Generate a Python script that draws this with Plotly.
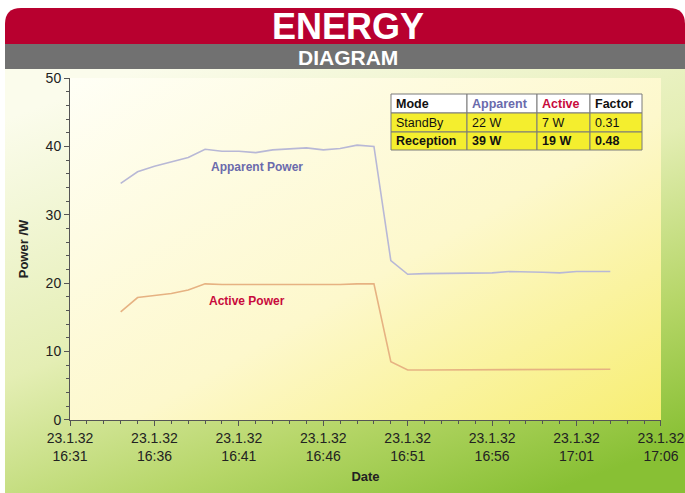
import base64
import plotly.graph_objects as go

# ---------------- data ----------------
date_prefix = "2032-01-23 "
minutes = ["16:34", "16:35", "16:36", "16:37", "16:38", "16:39", "16:40", "16:41",
           "16:42", "16:43", "16:44", "16:45", "16:46", "16:47", "16:48", "16:49",
           "16:50", "16:51", "16:52", "16:53", "16:54", "16:55", "16:56", "16:57",
           "16:58", "16:59", "17:00", "17:01", "17:02", "17:03"]
apparent_power = [34.6, 36.3, 37.1, 37.7, 38.4, 39.6, 39.3, 39.3, 39.1, 39.5,
                  39.7, 39.8, 39.5, 39.7, 40.2, 40.0, 23.3, 21.3, 21.4, 21.4,
                  21.5, 21.4, 21.5, 21.7, 21.7, 21.6, 21.5, 21.7, 21.7, 21.7]
active_power = [15.8, 17.9, 18.2, 18.5, 19.0, 19.9, 19.8, 19.8, 19.7, 19.8,
                19.8, 19.8, 19.7, 19.8, 19.9, 19.9, 8.5, 7.3, 7.3, 7.3,
                7.3, 7.3, 7.3, 7.3, 7.4, 7.4, 7.4, 7.4, 7.4, 7.4]
x_tick_times = ["16:31", "16:36", "16:41", "16:46", "16:51", "16:56", "17:01", "17:06"]
y_tick_vals = [0, 10, 20, 30, 40, 50]
table_header = ["Mode", "Apparent", "Active", "Factor"]
table_rows = [["StandBy", "22 W", "7 W", "0.31"],
              ["Reception", "39 W", "19 W", "0.48"]]

times = [date_prefix + m for m in minutes]
x_ticks = [date_prefix + t for t in x_tick_times]
x_ticktext = ["23.1.32<br>" + t for t in x_tick_times]
x_range = [date_prefix + "16:30:59.9", date_prefix + "17:06:00.1"]
y_range = [-0.02, 50.02]

# ---------------- geometry ----------------
W, H = 685, 493
L, R, T, B = 70, 24, 78, 73
PW, PH = W - L - R, H - T - B


def px(xpix):
    return (xpix - L) / PW


def py(ypix):
    return (H - B - ypix) / PH


# ---------------- background (decoration) ----------------
svg = f"""<svg xmlns='http://www.w3.org/2000/svg' width='{W}' height='{H}' viewBox='0 0 {W} {H}' preserveAspectRatio='none'>
<defs>
<linearGradient id='g1' x1='0.2' y1='0' x2='0.8' y2='1'>
<stop offset='0' stop-color='#fbfcec'/>
<stop offset='0.45' stop-color='#e4eeb4'/>
<stop offset='0.75' stop-color='#b6d668'/>
<stop offset='1' stop-color='#88c034'/>
</linearGradient>
<linearGradient id='g2' x1='0' y1='0' x2='1' y2='1'>
<stop offset='0' stop-color='#fffff6'/>
<stop offset='0.55' stop-color='#fdf8cc'/>
<stop offset='1' stop-color='#f7ee72'/>
</linearGradient>
</defs>
<rect width='{W}' height='{H}' fill='white'/>
<rect x='5' y='68' width='680' height='425' fill='url(#g1)'/>
<path d='M5,50 L5,24 Q5,8 21,8 L669,8 Q685,8 685,24 L685,50 Z' fill='#b8002f'/>
<rect x='5' y='44' width='680' height='25' fill='#717171'/>
<rect x='{L}' y='{T}' width='{PW}' height='{PH}' fill='url(#g2)'/>
</svg>"""
svg_uri = "data:image/svg+xml;base64," + base64.b64encode(svg.encode()).decode()

fig = go.Figure()

fig.add_trace(go.Scatter(x=times, y=apparent_power, mode="lines",
                         line=dict(color="#b8b8d6", width=1.6), hoverinfo="skip",
                         showlegend=False))
fig.add_trace(go.Scatter(x=times, y=active_power, mode="lines",
                         line=dict(color="#e6b282", width=1.6), hoverinfo="skip",
                         showlegend=False))

axis_color = "#555555"
mirror_color = "#a8a8a0"
font_main = "Arial, Liberation Sans, sans-serif"

fig.update_layout(
    width=W, height=H,
    autosize=False,
    margin=dict(l=L, r=R, t=T, b=B, autoexpand=False),
    paper_bgcolor="white",
    plot_bgcolor="rgba(0,0,0,0)",
    font=dict(family=font_main, color="#222222", size=14),
    images=[dict(source=svg_uri, xref="paper", yref="paper",
                 x=-L / PW, y=1 + T / PH, sizex=W / PW, sizey=H / PH,
                 xanchor="left", yanchor="top", sizing="stretch", layer="below")],
    xaxis=dict(
        type="date", range=x_range, automargin=False,
        tickmode="array", tickvals=x_ticks, ticktext=x_ticktext,
        showgrid=False, zeroline=False,
        showline=True, linecolor=axis_color, linewidth=1,
        ticks="outside", ticklen=5, tickcolor=axis_color,
        minor=dict(dtick=60000, ticks="outside", ticklen=3, tickcolor=axis_color),
        tickfont=dict(size=14, color="#222222"),
        title=dict(text="<b>Date</b>", font=dict(size=13, color="#222222"), standoff=8),
        fixedrange=True,
    ),
    yaxis=dict(
        range=y_range, automargin=False,
        tickmode="array", tickvals=y_tick_vals,
        showgrid=False, zeroline=False,
        showline=True, linecolor=axis_color, linewidth=1,
        ticks="outside", ticklen=5, tickcolor=axis_color,
        minor=dict(dtick=2, ticks="outside", ticklen=3, tickcolor=axis_color),
        tickfont=dict(size=14, color="#222222"),
        title=dict(text="<b>Power /W</b>", font=dict(size=13, color="#222222"), standoff=14),
        fixedrange=True,
    ),
    xaxis2=dict(
        type="date", overlaying="x", anchor="y", side="bottom", range=x_range,
        automargin=False,
        tickmode="array", tickvals=x_ticks, showticklabels=False,
        showgrid=False, zeroline=False, showline=False,
        ticks="inside", ticklen=5, tickcolor=axis_color,
        minor=dict(dtick=60000, ticks="inside", ticklen=3, tickcolor=axis_color),
        fixedrange=True,
    ),
    yaxis2=dict(
        overlaying="y", anchor="x", side="left", range=y_range, automargin=False,
        tickmode="array", tickvals=y_tick_vals, showticklabels=False,
        showgrid=False, zeroline=False, showline=False,
        ticks="inside", ticklen=5, tickcolor=axis_color,
        minor=dict(dtick=2, ticks="inside", ticklen=3, tickcolor=axis_color),
        fixedrange=True,
    ),
    xaxis3=dict(
        type="date", overlaying="x", anchor="y", side="top", range=x_range,
        automargin=False,
        tickmode="array", tickvals=x_ticks, showticklabels=False,
        showgrid=False, zeroline=False, showline=True, linecolor=mirror_color,
        ticks="outside", ticklen=4, tickcolor=mirror_color,
        minor=dict(dtick=60000, ticks="outside", ticklen=2, tickcolor=mirror_color),
        fixedrange=True,
    ),
    yaxis3=dict(
        overlaying="y", anchor="x", side="right", range=y_range, automargin=False,
        tickmode="array", tickvals=y_tick_vals, showticklabels=False,
        showgrid=False, zeroline=False, showline=True, linecolor=mirror_color,
        ticks="outside", ticklen=4, tickcolor=mirror_color,
        minor=dict(dtick=2, ticks="outside", ticklen=2, tickcolor=mirror_color),
        fixedrange=True,
    ),
)

annotations = []
# header
annotations.append(dict(text="<b>ENERGY</b>", xref="paper", yref="paper",
                        x=px(W / 2 + 5), y=py(27), showarrow=False,
                        font=dict(size=36, color="white", family=font_main),
                        xanchor="center", yanchor="middle"))
annotations.append(dict(text="<b>DIAGRAM</b>", xref="paper", yref="paper",
                        x=px(W / 2 + 5), y=py(57), showarrow=False,
                        font=dict(size=21, color="white", family=font_main),
                        xanchor="center", yanchor="middle"))
# series labels
annotations.append(dict(text="<b>Apparent Power</b>", x=date_prefix + "16:42:04", y=37.0,
                        showarrow=False, font=dict(size=12, color="#6a6aac")))
annotations.append(dict(text="<b>Active Power</b>", x=date_prefix + "16:41:28", y=17.4,
                        showarrow=False, font=dict(size=12, color="#c80a3c")))

# table
col_px = [391, 467, 537, 590, 642]
row_px = [94, 113, 132, 150]
header_colors = ["#111111", "#6a6aac", "#c80a3c", "#111111"]
for r in range(3):
    fill = "white" if r == 0 else "#f4ee2e"
    for c in range(4):
        fig.add_shape(type="rect", xref="paper", yref="paper",
                      x0=px(col_px[c]), x1=px(col_px[c + 1]),
                      y0=py(row_px[r + 1]), y1=py(row_px[r]),
                      fillcolor=fill, line=dict(color="#7a7a7a", width=1),
                      layer="above")
        if r == 0:
            txt = "<b>" + table_header[c] + "</b>"
            col = header_colors[c]
        else:
            txt = table_rows[r - 1][c]
            if r == 2:
                txt = "<b>" + txt + "</b>"
            col = "#111111"
        annotations.append(dict(text=txt, xref="paper", yref="paper",
                                x=px(col_px[c] + 3), y=py((row_px[r] + row_px[r + 1]) / 2),
                                xanchor="left", yanchor="middle", showarrow=False,
                                font=dict(size=12.5, color=col, family=font_main)))
fig.update_layout(annotations=annotations)

fig.write_html("out.html", config={"displayModeBar": False},
               post_script="document.body.style.margin='0';document.body.style.overflow='hidden';")
